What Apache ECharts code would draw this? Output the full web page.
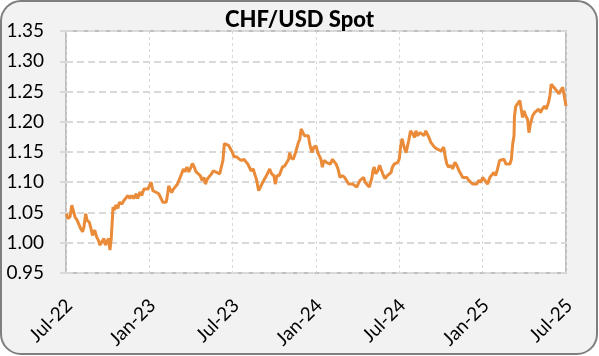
<!DOCTYPE html>
<html>
<head>
<meta charset="utf-8">
<script src="https://cdn.jsdelivr.net/npm/echarts@6/dist/echarts.min.js"></script>
<style>
html,body{margin:0;padding:0;background:#fff;}
#chart{width:599px;height:356px;}
</style>
</head>
<body>
<div id="chart"></div>
<script>
const chartTitle = 'CHF/USD Spot';
const xTickLabels = ['Jul-22','Jan-23','Jul-23','Jan-24','Jul-24','Jan-25','Jul-25'];
const yMin = 0.95, yMax = 1.35, yStep = 0.05;

const dates = [
'2022-07-02','2022-07-05','2022-07-10','2022-07-14','2022-07-17','2022-07-21','2022-07-26','2022-07-30',
'2022-08-03','2022-08-07','2022-08-10','2022-08-14','2022-08-17','2022-08-22','2022-08-26','2022-08-29',
'2022-09-03','2022-09-07','2022-09-11','2022-09-14','2022-09-18','2022-09-23','2022-09-26','2022-09-29',
'2022-10-03','2022-10-06','2022-10-09','2022-10-13','2022-10-16','2022-10-19','2022-10-24','2022-10-27',
'2022-11-02','2022-11-06','2022-11-10','2022-11-15','2022-11-19','2022-11-23','2022-11-28',
'2022-12-02','2022-12-06','2022-12-11','2022-12-15','2022-12-20','2022-12-24','2022-12-29',
'2023-01-02','2023-01-05','2023-01-09','2023-01-13','2023-01-17','2023-01-22','2023-01-26','2023-01-31',
'2023-02-04','2023-02-07','2023-02-10','2023-02-12','2023-02-15','2023-02-18','2023-02-22','2023-02-26',
'2023-03-02','2023-03-06','2023-03-11','2023-03-15','2023-03-18','2023-03-23','2023-03-27',
'2023-04-01','2023-04-04','2023-04-08','2023-04-12','2023-04-16','2023-04-21','2023-04-25','2023-04-29',
'2023-05-02','2023-05-07','2023-05-11','2023-05-16','2023-05-20','2023-05-25','2023-05-29',
'2023-06-03','2023-06-07','2023-06-10','2023-06-13','2023-06-17','2023-06-22','2023-06-26','2023-06-30',
'2023-07-04','2023-07-10','2023-07-16','2023-07-21','2023-07-26','2023-07-30',
'2023-08-04','2023-08-08','2023-08-11','2023-08-16','2023-08-19','2023-08-23','2023-08-28',
'2023-09-01','2023-09-06','2023-09-10','2023-09-14','2023-09-18','2023-09-21','2023-09-25','2023-09-30',
'2023-10-03','2023-10-07','2023-10-12','2023-10-16','2023-10-19','2023-10-24','2023-10-28',
'2023-11-02','2023-11-04','2023-11-07','2023-11-12','2023-11-16','2023-11-19','2023-11-23','2023-11-26','2023-11-29',
'2023-12-03','2023-12-06','2023-12-10','2023-12-15','2023-12-18','2023-12-23','2023-12-27',
'2024-01-01','2024-01-05','2024-01-09','2024-01-12','2024-01-15','2024-01-19','2024-01-24','2024-01-28',
'2024-02-02','2024-02-06','2024-02-10','2024-02-14','2024-02-18','2024-02-22','2024-02-27',
'2024-03-03','2024-03-07','2024-03-12','2024-03-16','2024-03-21','2024-03-25','2024-03-30',
'2024-04-02','2024-04-06','2024-04-10','2024-04-14','2024-04-17','2024-04-21','2024-04-26','2024-04-29',
'2024-05-02','2024-05-04','2024-05-07','2024-05-10','2024-05-15','2024-05-19','2024-05-22','2024-05-26','2024-05-31',
'2024-06-05','2024-06-09','2024-06-13','2024-06-16','2024-06-20','2024-06-23','2024-06-28',
'2024-07-01','2024-07-04','2024-07-07','2024-07-10','2024-07-13','2024-07-16','2024-07-19','2024-07-22','2024-07-26','2024-07-31',
'2024-08-04','2024-08-07','2024-08-11','2024-08-16','2024-08-20','2024-08-25','2024-08-29',
'2024-09-02','2024-09-05','2024-09-09','2024-09-13','2024-09-17','2024-09-22','2024-09-26',
'2024-10-01','2024-10-07','2024-10-10','2024-10-14','2024-10-18','2024-10-23','2024-10-27',
'2024-11-01','2024-11-05','2024-11-10','2024-11-14','2024-11-18','2024-11-22','2024-11-27',
'2024-12-01','2024-12-05','2024-12-10','2024-12-14','2024-12-19','2024-12-23','2024-12-28',
'2025-01-01','2025-01-06','2025-01-10','2025-01-12','2025-01-17','2025-01-21','2025-01-26','2025-01-30',
'2025-02-03','2025-02-07','2025-02-11','2025-02-16','2025-02-20','2025-02-24','2025-02-28',
'2025-03-03','2025-03-06','2025-03-09','2025-03-10','2025-03-13','2025-03-17','2025-03-22','2025-03-25','2025-03-28','2025-03-31',
'2025-04-04','2025-04-08','2025-04-11','2025-04-14','2025-04-19','2025-04-23','2025-04-27',
'2025-05-02','2025-05-06','2025-05-10','2025-05-15','2025-05-19','2025-05-24','2025-05-27','2025-05-30',
'2025-06-03','2025-06-08','2025-06-12','2025-06-16','2025-06-19','2025-06-24','2025-06-28','2025-07-01'
];

const spot = [
1.048,1.040,1.043,1.062,1.059,1.043,1.037,1.034,
1.023,1.018,1.026,1.048,1.037,1.034,1.023,1.012,
1.021,1.010,1.004,0.996,1.001,1.007,0.996,1.001,
1.007,0.988,1.007,1.059,1.054,1.062,1.057,1.067,
1.064,1.070,1.073,1.078,1.073,1.078,1.073,
1.081,1.073,1.084,1.078,1.089,1.086,1.089,
1.086,1.100,1.086,1.086,1.083,1.081,1.075,1.067,
1.064,1.067,1.081,1.094,1.092,1.083,1.089,1.092,
1.097,1.100,1.114,1.122,1.117,1.125,1.117,
1.125,1.131,1.125,1.117,1.114,1.111,1.103,1.108,
1.097,1.106,1.103,1.114,1.119,1.117,1.119,
1.114,1.117,1.136,1.164,1.164,1.161,1.161,1.150,
1.142,1.142,1.138,1.136,1.138,1.136,
1.130,1.127,1.119,1.122,1.114,1.105,1.086,
1.086,1.100,1.103,1.111,1.114,1.122,1.114,1.111,
1.097,1.111,1.111,1.108,1.125,1.127,1.130,
1.138,1.149,1.141,1.138,1.147,1.155,1.166,1.171,1.188,
1.188,1.177,1.180,1.177,1.163,1.149,1.158,
1.160,1.149,1.147,1.138,1.125,1.136,1.133,1.136,
1.130,1.138,1.138,1.130,1.122,1.108,1.111,
1.108,1.106,1.097,1.094,1.097,1.094,1.092,
1.097,1.103,1.106,1.108,1.100,1.097,1.092,1.100,
1.108,1.119,1.125,1.114,1.119,1.128,1.122,1.114,1.106,
1.111,1.111,1.116,1.125,1.130,1.128,1.133,
1.139,1.160,1.172,1.163,1.155,1.149,1.149,1.169,1.185,1.180,
1.174,1.185,1.177,1.182,1.180,1.177,1.185,
1.188,1.174,1.166,1.163,1.158,1.155,1.155,
1.152,1.158,1.144,1.130,1.125,1.128,1.122,
1.133,1.128,1.119,1.116,1.108,1.111,1.108,
1.103,1.100,1.097,1.094,1.097,1.103,1.100,
1.108,1.103,1.106,1.097,1.108,1.111,1.116,1.111,
1.122,1.136,1.133,1.138,1.130,1.133,1.130,
1.138,1.163,1.177,1.210,1.226,1.224,1.235,1.221,1.207,1.218,
1.210,1.204,1.182,1.196,1.210,1.215,1.218,
1.221,1.215,1.221,1.226,1.221,1.232,1.243,1.262,
1.259,1.254,1.254,1.246,1.251,1.257,1.254,1.226
];

// months elapsed since 1 Jul 2022
function monthsSinceStart(s) {
  const [y, m, d] = s.split('-').map(Number);
  const dim = new Date(Date.UTC(y, m, 0)).getUTCDate();
  return (y - 2022) * 12 + (m - 7) + (d - 1) / dim;
}
const seriesData = dates.map((s, i) => [monthsSinceStart(s), spot[i]]);

const FONT = 'Lato';
const chart = echarts.init(document.getElementById('chart'));
chart.setOption({
  animation: false,
  graphic: [{
    type: 'rect', z: -100, silent: true,
    shape: { x: 1, y: 1, width: 596, height: 353, r: 20 },
    style: { fill: '#F2F2F2', stroke: '#7F7F7F', lineWidth: 2 }
  }],
  title: {
    text: chartTitle, left: 'center', top: 4,
    textStyle: { fontFamily: FONT, fontWeight: 900, fontSize: 22, color: '#000' }
  },
  grid: {
    left: 66, right: 33, top: 31, bottom: 83,
    show: true, backgroundColor: '#fff', borderColor: '#BFBFBF', borderWidth: 2
  },
  xAxis: {
    type: 'value', min: 0, max: 36, interval: 6,
    axisLine: { show: false },
    axisTick: { show: false },
    splitLine: { show: true, lineStyle: { color: '#D9D9D9', width: 1, type: [3, 3] } },
    axisLabel: {
      rotate: 45, margin: 19, align: 'right', verticalAlign: 'top',
      padding: [0, 5, 0, 0],
      fontFamily: FONT, fontSize: 19, color: '#000',
      formatter: v => xTickLabels[Math.round(v / 6)] || ''
    }
  },
  yAxis: {
    type: 'value', min: yMin, max: yMax, interval: yStep,
    axisLine: { show: false },
    axisTick: { show: true, length: 6, lineStyle: { color: '#D9D9D9', width: 2 } },
    splitLine: { show: true, lineStyle: { color: '#D9D9D9', width: 2, type: [7, 4] } },
    axisLabel: {
      margin: 22, fontFamily: FONT, fontSize: 19, color: '#000',
      formatter: v => v.toFixed(2)
    }
  },
  series: [{
    type: 'line', data: seriesData, showSymbol: false,
    lineStyle: { color: '#E98B39', width: 3 },
    z: 5
  }]
});
</script>
</body>
</html>
